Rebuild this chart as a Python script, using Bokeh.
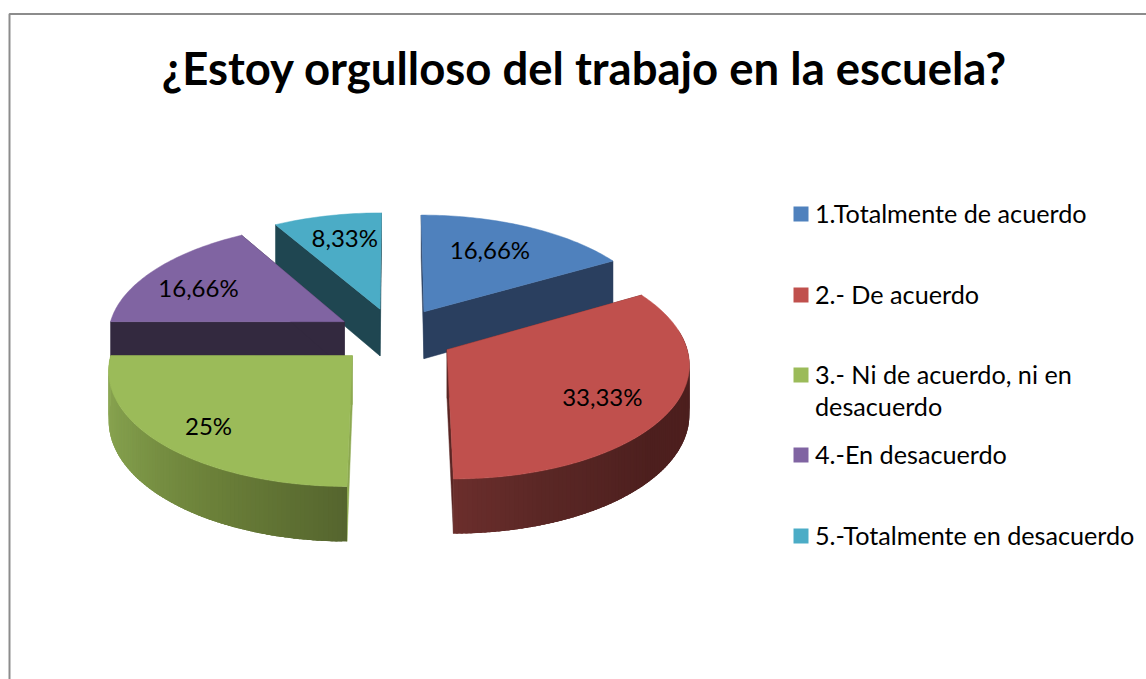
import math
from bokeh.plotting import figure
from bokeh.models import Range1d
from bokeh.core.properties import value
from bokeh.embed import file_html
from bokeh.resources import INLINE

# ---- data ----
categories = ["1.Totalmente de acuerdo", "2.- De acuerdo", "3.- Ni de acuerdo, ni en\ndesacuerdo",
              "4.-En desacuerdo", "5.-Totalmente en desacuerdo"]
values = [16.66, 33.33, 25, 16.66, 8.33]
value_labels = ["16,66%", "33,33%", "25%", "16,66%", "8,33%"]
title = "¿Estoy orgulloso del trabajo en la escuela?"

# ---- style / layout ----
FONT = "Lato"
top_colors = ["#4F81BD", "#C0504D", "#9BBB59", "#8064A2", "#4BACC6"]
cut_colors = ["#2A3F5F", "#5A2624", "#8CA850", "#33293F", "#1F4651"]
wall_stops = {1: [(80, "#4D201F"), (130, "#4D1F1E"), (160, "#5A2725"), (180, "#6B2E2C")],
              2: [(180, "#55652E"), (210, "#6B8039"), (240, "#7F9A49"), (275, "#90AC57")]}
CX, CY, A, B, D, K, EXPLODE = 394.5, 335, 237, 112, 48, 0.108, 0.25
label_r = [(0.62, 0.67), (0.70, 0.85), (0.77, 0.84), (0.75, 0.57), (0.65, 0.70)]
LABEL_DY = -4
legend_y = [213.5, 294.5, 374.5, 454.5, 535.5]
draw_order = [4, 0, 3, 1, 2]

p = figure(width=1146, height=679, output_backend="svg", toolbar_location=None,
           x_range=Range1d(0, 1146), y_range=Range1d(679, 0), min_border=0,
           outline_line_color=None)
p.axis.visible = False
p.grid.visible = False
p.background_fill_color = "white"


def project(x, z, h=0.0):
    f = 1 / (1 + K * z)
    return CX + A * x * f, CY - B * z * f + D * h * f


def lerp_color(stops, t):
    if t <= stops[0][0]:
        return stops[0][1]
    for (a, ca), (b, cb) in zip(stops, stops[1:]):
        if t <= b:
            u = (t - a) / (b - a)
            rgb = [round(int(ca[i:i + 2], 16) * (1 - u) + int(cb[i:i + 2], 16) * u) for i in (1, 3, 5)]
            return "#%02x%02x%02x" % tuple(rgb)
    return stops[-1][1]


total = sum(values)
starts, ends, acc = [], [], 0.0
for v in values:
    starts.append(acc / total * 360)
    acc += v
    ends.append(acc / total * 360)

# frame
p.line([9, 9, 1146], [679, 13.5, 13.5], line_color="#8C8C8C", line_width=2)


def rim(ax, az, t, h=0.0):
    r = math.radians(t)
    return project(ax + math.sin(r), az + math.cos(r), h)


for i in draw_order:
    t0, t1 = starts[i], ends[i]
    mid = math.radians((t0 + t1) / 2)
    ax, az = EXPLODE * math.sin(mid), EXPLODE * math.cos(mid)
    # cut faces
    for t in (t0, t1):
        pts = [project(ax, az), rim(ax, az, t), rim(ax, az, t, 1), project(ax, az, 1)]
        p.patch([q[0] for q in pts], [q[1] for q in pts], fill_color=cut_colors[i],
                line_color=cut_colors[i], line_width=0.5)
    # outer wall: strips painted over each other so that no seams show
    if i in wall_stops:
        lo, hi = max(t0, 80), min(t1, 275)
        n = int(hi - lo)
        xs, ys, cols = [], [], []
        for k in range(n):
            a = lo + (hi - lo) * k / n
            b = min(hi, lo + (hi - lo) * (k + 2.5) / n)
            quad = [rim(ax, az, a), rim(ax, az, b), rim(ax, az, b, 1), rim(ax, az, a, 1)]
            xs.append([q[0] for q in quad])
            ys.append([q[1] for q in quad])
            cols.append(lerp_color(wall_stops[i], a + (hi - lo) / n / 2))
        p.patches(xs, ys, fill_color=cols, line_color=None)
    # top face
    n = max(2, int(t1 - t0))
    pts = [project(ax, az)] + [rim(ax, az, t0 + (t1 - t0) * k / n) for k in range(n + 1)]
    p.patch([q[0] for q in pts], [q[1] for q in pts], fill_color=top_colors[i],
            line_color=top_colors[i], line_width=0.5)

# value labels
for i in range(len(values)):
    mid = math.radians((starts[i] + ends[i]) / 2)
    ax, az = EXPLODE * math.sin(mid), EXPLODE * math.cos(mid)
    lx, ly = project(ax + label_r[i][0] * math.sin(mid), az + label_r[i][1] * math.cos(mid))
    p.text([lx], [ly + LABEL_DY], text=[value_labels[i]], text_font=value(FONT), text_font_size="24px",
           text_align="center", text_baseline="middle", text_color="#000000")

# title
p.text([584], [67], text=[title], text_font=value(FONT), text_font_style="bold",
       text_font_size="45.5px", text_align="center", text_baseline="middle", text_color="#000000")

# legend
for i, name in enumerate(categories):
    p.rect([800.5], [legend_y[i]], width=15, height=15, fill_color=top_colors[i], line_color=None)
    for j, line in enumerate(name.split("\n")):
        p.text([814.5], [legend_y[i] - 1 + j * 32], text=[line], text_font=value(FONT), text_font_size="25.2px",
               text_align="left", text_baseline="middle", text_color="#000000")

open("out.html", "w").write(file_html(p, INLINE))
